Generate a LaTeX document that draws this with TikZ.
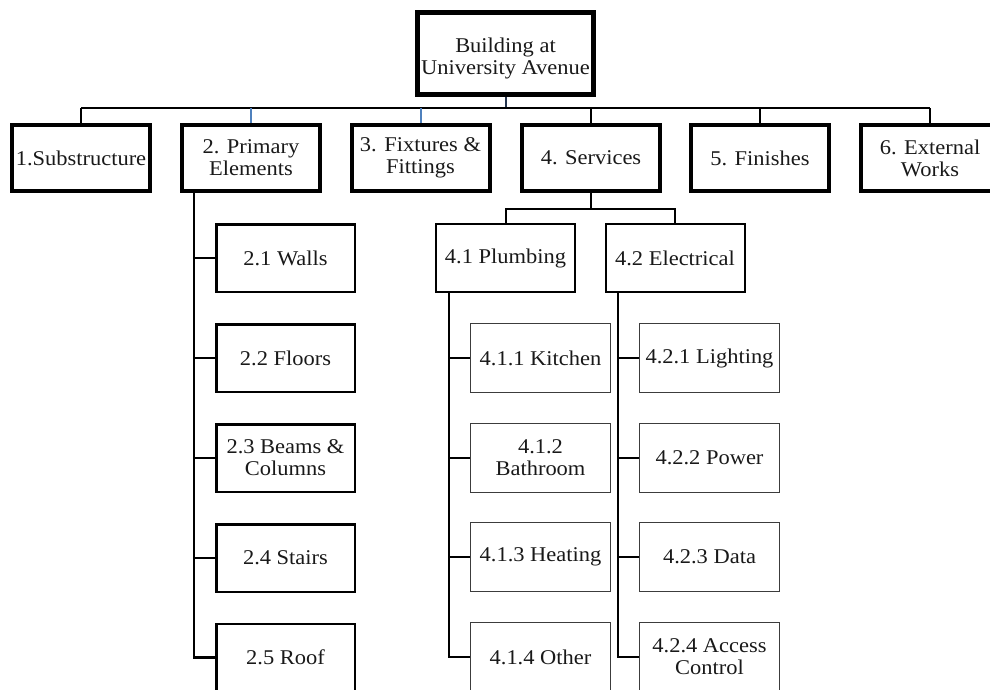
\documentclass[tikz,border=0pt]{standalone}
\usepackage{fontspec}
\setmainfont{Liberation Serif}[FakeStretch=1.07]
\usepackage{tikz}
\usetikzlibrary{positioning,calc}
\definecolor{linkblue}{RGB}{79,129,189}
\definecolor{rootnavy}{RGB}{36,52,78}
\definecolor{leafgray}{RGB}{60,60,60}
\definecolor{textgray}{RGB}{25,25,25}
\tikzset{
  root-node/.style={draw=black, line width=5pt, minimum width=176pt, minimum height=82pt,
    inner sep=1pt, text=textgray, font=\fontsize{21}{22}\selectfont},
  main-node/.style={draw=black, line width=4pt, minimum width=138pt, minimum height=66pt,
    align=center, inner sep=1pt, text=textgray, font=\fontsize{21}{22}\selectfont},
  part-node/.style={draw=black, line width=2.5pt, minimum width=138.5pt, minimum height=67.5pt,
    align=center, inner sep=2pt, text=textgray, font=\fontsize{21}{22}\selectfont},
  group-node/.style={draw=black, line width=2pt, minimum width=139pt, minimum height=68pt,
    align=center, inner sep=2pt, text=textgray, font=\fontsize{21}{22}\selectfont},
  leaf-node/.style={draw=leafgray, line width=1pt, minimum width=140pt, minimum height=69pt,
    align=center, inner sep=2pt, text=textgray, font=\fontsize{21}{22}\selectfont},
  tree-line/.style={draw=black, line width=2pt},
  spine-line/.style={draw=black, line width=2.5pt}
}
\begin{document}
\begin{tikzpicture}[x=1pt, y=-1pt]
\useasboundingbox (0,0) rectangle (990,689);
\clip (0,0) rectangle (990,689);
% top and first level
\node[root-node] (root) at (505.5,53.5)
  {\raisebox{-6pt}[\height][\depth]{\begin{tabular}{@{}c@{}}Building at\\University Avenue\end{tabular}}};
\node[main-node] (sub) at (81,158) {1.Substructure};
\node[main-node] (prim) at (251,158) {2. Primary\\Elements};
\node[main-node] (fix) at (420.5,158) {3. Fixtures \&\\Fittings};
\node[main-node] (serv) at (591,158) {4. Services};
\node[main-node] (fin) at (760,158) {5. Finishes};
\node[main-node] (ext) at (930,158) {6. External\\Works};
\coordinate (bus) at (0,108);
\draw[tree-line, draw=rootnavy] (root.south) -- (root.south |- bus);
\draw[tree-line] (sub.north |- bus) -- (ext.north |- bus);
\foreach \n in {sub,serv,fin,ext}
  \draw[tree-line] (\n.north |- bus) -- (\n.north);
\foreach \n in {prim,fix}
  \draw[tree-line, draw=linkblue] (\n.north |- bus) -- (\n.north);
% primary elements
\node[part-node] (walls) at (285.5,258) {2.1 Walls};
\node[part-node] (floors) at (285.5,358) {2.2 Floors};
\node[part-node] (beams) at (285.5,458) {2.3 Beams \&\\Columns};
\node[part-node] (stairs) at (285.5,558) {2.4 Stairs};
\node[part-node] (roof) at (285.5,657.5) {2.5 Roof};
\coordinate (primspine) at (194,191);
\draw[spine-line] (primspine) -- (primspine |- roof.west) -- (roof.west);
\foreach \n in {walls,floors,beams,stairs}
  \draw[tree-line] (primspine |- \n.west) -- (\n.west);
% services
\node[group-node] (plumb) at (505.5,258) {4.1 Plumbing};
\node[group-node] (elec) at (675,258) {4.2 Electrical};
\coordinate (fork) at (0,209);
\draw[tree-line] (serv.south) -- (serv.south |- fork);
\draw[tree-line] (plumb.north) -- (plumb.north |- fork) -- (elec.north |- fork) -- (elec.north);
\node[leaf-node] (kitchen) at (540.5,358) {4.1.1 Kitchen};
\node[leaf-node] (bath) at (540.5,457.5) {4.1.2\\Bathroom};
\node[leaf-node] (heat) at (540.5,557) {4.1.3 Heating};
\node[leaf-node] (other) at (540.5,657) {4.1.4 Other};
\node[leaf-node] (light) at (709.5,358) {4.2.1 Lighting};
\node[leaf-node] (power) at (709.5,457.5) {4.2.2 Power};
\node[leaf-node] (data) at (709.5,557) {4.2.3 Data};
\node[leaf-node] (access) at (709.5,657) {4.2.4 Access\\Control};
\coordinate (plumbspine) at (449,292);
\coordinate (elecspine) at (618,292);
\draw[spine-line] (plumbspine) -- (plumbspine |- other.west) -- (other.west);
\draw[spine-line] (elecspine) -- (elecspine |- access.west) -- (access.west);
\foreach \n in {kitchen,bath,heat}
  \draw[tree-line] (plumbspine |- \n.west) -- (\n.west);
\foreach \n in {light,power,data}
  \draw[tree-line] (elecspine |- \n.west) -- (\n.west);
\end{tikzpicture}
\end{document}
